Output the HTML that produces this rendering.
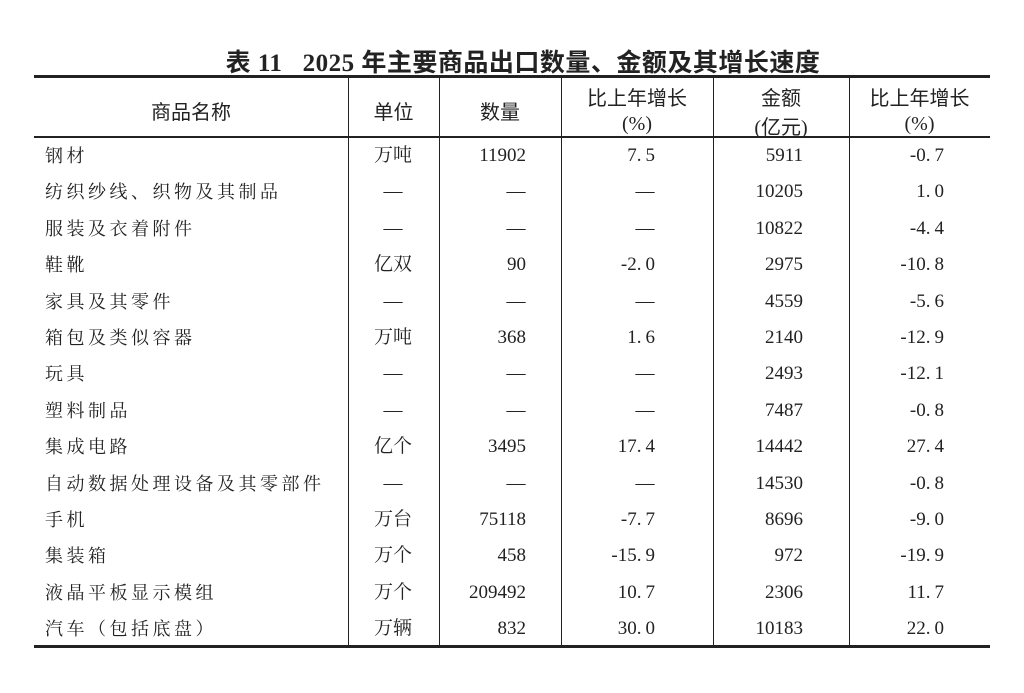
<!DOCTYPE html>
<html><head><meta charset="utf-8"><style>
body{margin:0;width:1024px;height:693px;background:#fff;position:relative;overflow:hidden;font-family:"Liberation Serif","Noto Serif CJK SC",serif;color:#222}
.t{position:absolute;white-space:nowrap}
.title{left:222px;width:602px;text-align:center;top:43px;font-family:"Liberation Serif","Noto Sans CJK SC",sans-serif;font-size:25px;font-weight:bold;letter-spacing:0.5px}
.h{font-family:"Liberation Serif","Noto Sans CJK SC",sans-serif;font-size:20px;text-align:center}
.line{position:absolute;background:#222}
.r{font-size:19px;line-height:20px}
</style></head><body>
<div class="t title">表 11&nbsp;&nbsp;&nbsp;2025 年主要商品出口数量、金额及其增长速度</div>
<div class="line" style="left:34px;width:956px;top:75px;height:3px"></div>
<div class="line" style="left:34px;width:956px;top:136px;height:1.5px"></div>
<div class="line" style="left:34px;width:956px;top:645px;height:3px"></div>
<div class="line" style="left:348px;width:1px;top:77px;height:568px"></div>
<div class="line" style="left:439px;width:1px;top:77px;height:568px"></div>
<div class="line" style="left:561px;width:1px;top:77px;height:568px"></div>
<div class="line" style="left:713px;width:1px;top:77px;height:568px"></div>
<div class="line" style="left:849px;width:1px;top:77px;height:568px"></div>
<div class="t h" style="left:34px;width:314px;top:96px">商品名称</div>
<div class="t h" style="left:348px;width:91px;top:96px">单位</div>
<div class="t h" style="left:439px;width:122px;top:96px">数量</div>
<div class="t h" style="left:561px;width:152px;top:82px">比上年增长</div>
<div class="t h" style="left:561px;width:152px;top:113px">(%)</div>
<div class="t h" style="left:713px;width:136px;top:82px">金额</div>
<div class="t h" style="left:713px;width:136px;top:111px">(亿元)</div>
<div class="t h" style="left:849px;width:141px;top:82px">比上年增长</div>
<div class="t h" style="left:849px;width:141px;top:113px">(%)</div>
<div id="rows"></div>
<script>
var d=[["钢材","万吨","11902","7.5","5911","-0.7"],
["纺织纱线、织物及其制品","—","—","—","10205","1.0"],
["服装及衣着附件","—","—","—","10822","-4.4"],
["鞋靴","亿双","90","-2.0","2975","-10.8"],
["家具及其零件","—","—","—","4559","-5.6"],
["箱包及类似容器","万吨","368","1.6","2140","-12.9"],
["玩具","—","—","—","2493","-12.1"],
["塑料制品","—","—","—","7487","-0.8"],
["集成电路","亿个","3495","17.4","14442","27.4"],
["自动数据处理设备及其零部件","—","—","—","14530","-0.8"],
["手机","万台","75118","-7.7","8696","-9.0"],
["集装箱","万个","458","-15.9","972","-19.9"],
["液晶平板显示模组","万个","209492","10.7","2306","11.7"],
["汽车（包括底盘）","万辆","832","30.0","10183","22.0"]];
var h="";
function dec(s){return s.replace('.','.<span style="display:inline-block;width:4px"></span>');}
d.forEach(function(r,i){var y=146+i*36.4;
function cell(x,w,txt,al){return '<div class="t r" style="left:'+x+'px;width:'+w+'px;top:'+y+'px;text-align:'+al+'">'+txt+'</div>';}
h+=cell(45,300,'<span style="letter-spacing:3.5px;font-size:18px">'+r[0]+'</span>','left');
h+=cell(353,80,r[1],'center');
h+=r[2]=="—"?cell(476,80,r[2],'center'):cell(430,96,r[2],'right');
h+=r[3]=="—"?cell(605,80,r[3],'center'):cell(560,95,dec(r[3]),'right');
h+=cell(713,90,r[4],'right');
h+=cell(850,94,dec(r[5]),'right');
});
document.getElementById("rows").innerHTML=h;
</script>
</body></html>
